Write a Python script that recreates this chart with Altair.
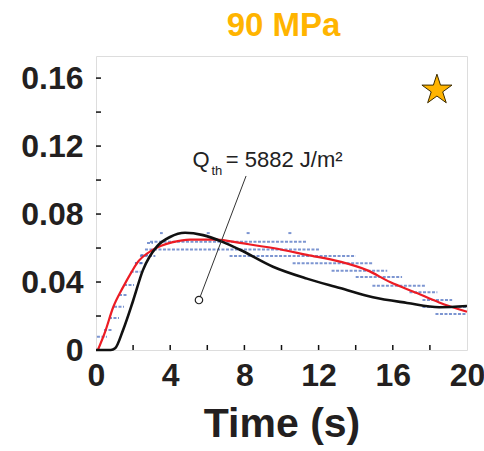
import altair as alt
import pandas as pd

# Fitted model (black) and smoothed measurement (red): time in s, value
model_t = [0.0, 0.8, 1.03, 1.46, 2.0, 2.53, 3.29, 3.99, 4.8, 5.77, 6.85, 7.76,
           9.54, 11.37, 13.15, 14.93, 16.77, 18.5, 20.0]
model_v = [0.0, 0.0, 0.001, 0.0118, 0.029, 0.047, 0.061, 0.0665, 0.069, 0.0676,
           0.0635, 0.059, 0.049, 0.042, 0.0365, 0.031, 0.0277, 0.0252, 0.0259]

smooth_t = [0.1, 0.5, 0.92, 1.46, 1.92, 2.2, 3.07, 4.15, 5.07, 6.52, 7.76, 9.54,
            11.37, 13.15, 14.6, 15.85, 17.3, 18.5, 20.0]
smooth_v = [0.0, 0.011, 0.025, 0.037, 0.046, 0.051, 0.059, 0.0635, 0.065, 0.065,
            0.063, 0.060, 0.056, 0.052, 0.047, 0.040, 0.0335, 0.028, 0.0225]

# Raw samples, drawn as runs of dashes at quantised levels
raw_t0 = [0.05, 0.43, 0.70, 0.97, 1.24, 1.51, 1.87, 2.10, 2.40, 2.75,
          3.45, 5.97, 8.12, 10.37,
          2.91, 2.64, 2.37, 7.2, 2.1, 10.6, 12.7, 14.0, 14.9, 16.9, 17.6, 17.6, 18.3]
raw_t1 = [0.59, 0.86, 1.24, 1.51, 1.67, 2.05, 2.41, 2.59, 2.95, 3.07,
          3.6, 6.15, 8.3, 10.6,
          11.36, 12.08, 3.2, 14.0, 2.5, 14.9, 15.7, 16.5, 17.8, 18.4, 19.2, 20.0, 20.0]
raw_v = [0.0078, 0.0118, 0.0188, 0.0255, 0.0324, 0.0382, 0.046, 0.0512, 0.0559, 0.0629,
         0.0688, 0.0688, 0.0688, 0.0688,
         0.0637, 0.0592, 0.0553, 0.0553, 0.051, 0.051, 0.0467, 0.043, 0.0378, 0.034,
         0.0294, 0.0253, 0.0212]

# Annotation: marker point and leader line end
marker_t = [5.55]
marker_v = [0.0294]
leader_t = [5.55, 8.09]
leader_v = [0.0294, 0.1024]

x_ticks = [2, 4, 6, 8, 10, 12, 14, 16, 18]
y_ticks = [0.02, 0.04, 0.06, 0.08, 0.10, 0.12, 0.14, 0.16]

W, H = 371, 294
TXT = "#231F20"
FONT = "Liberation Sans"

xs = alt.Scale(domain=[0, 20], nice=False, zero=False)
ys = alt.Scale(domain=[0, 0.173], nice=False, zero=False)

model = pd.DataFrame({"t": model_t, "v": model_v})
smooth = pd.DataFrame({"t": smooth_t, "v": smooth_v})
raw = pd.DataFrame({"t": raw_t0, "t2": raw_t1, "v": raw_v})
leader = pd.DataFrame({"t": leader_t, "v": leader_v})
marker = pd.DataFrame({"t": marker_t, "v": marker_v})

base_x = alt.X("t:Q", scale=xs, axis=alt.Axis(
    values=[0, 4, 8, 12, 16, 20], format="d", title="Time (s)", grid=False,
    domain=False, ticks=False, labelFont=FONT, labelFontWeight="bold",
    labelFontSize=32, labelColor=TXT, labelPadding=10, labelFlush=False,
    titleFont=FONT, titleFontWeight="bold", titleFontSize=41, titleColor=TXT,
    titlePadding=13))
base_y = alt.Y("v:Q", scale=ys, axis=alt.Axis(
    values=[0, 0.04, 0.08, 0.12, 0.16], labelExpr="datum.value == 0 ? '0' : format(datum.value, '.2f')",
    title=None, grid=False, domain=False, ticks=False, labelFont=FONT,
    labelFontWeight="bold", labelFontSize=32, labelColor=TXT, labelPadding=13,
    labelFlush=False))

raw_layer = alt.Chart(raw).mark_rule(
    color="#4468BE", strokeWidth=2, opacity=0.7, strokeDash=[3, 1.5]
).encode(x=base_x, x2="t2:Q", y=base_y)

smooth_layer = alt.Chart(smooth).mark_line(
    color="#EC1C24", strokeWidth=2.2, interpolate="monotone"
).encode(x=alt.X("t:Q", scale=xs), y=alt.Y("v:Q", scale=ys))

model_layer = alt.Chart(model).mark_line(
    color="#111111", strokeWidth=2.6, interpolate="monotone"
).encode(x=alt.X("t:Q", scale=xs), y=alt.Y("v:Q", scale=ys))

leader_layer = alt.Chart(leader).mark_line(color="#333333", strokeWidth=1).encode(
    x=alt.X("t:Q", scale=xs), y=alt.Y("v:Q", scale=ys))

marker_layer = alt.Chart(marker).mark_point(
    shape="circle", filled=True, fill="white", stroke="#222222", strokeWidth=1.2,
    size=55, opacity=1
).encode(x=alt.X("t:Q", scale=xs), y=alt.Y("v:Q", scale=ys))

# Q_th label pieces
lbl = pd.DataFrame({
    "t": [5.2, 6.22, 7.0],
    "v": [0.1078, 0.1032, 0.1078],
    "s": ["Q", "th", "= 5882 J/m\u00b2"],
    "fs": [22, 13, 22],
})
label_layer = alt.Chart(lbl).mark_text(
    align="left", baseline="alphabetic", font=FONT, color="#222222"
).encode(x=alt.X("t:Q", scale=xs), y=alt.Y("v:Q", scale=ys), text="s:N",
         size=alt.Size("fs:Q", scale=None, legend=None))

star_layer = alt.Chart(pd.DataFrame({"t": [18.38], "v": [0.153]})).mark_point(
    shape="M0,-1L0.2245,-0.309L0.9511,-0.309L0.3633,0.118L0.5878,0.809L0,0.382L-0.5878,0.809L-0.3633,0.118L-0.9511,-0.309L-0.2245,-0.309Z",
    filled=True, fill="#FFB400", stroke="#3A2A00", strokeWidth=1, size=1000, opacity=1
).encode(x=alt.X("t:Q", scale=xs), y=alt.Y("v:Q", scale=ys))

xtick_layer = alt.Chart(pd.DataFrame({"t": x_ticks})).mark_rule(
    color="#111111", strokeWidth=1.5
).encode(x=alt.X("t:Q", scale=xs), y=alt.value(H), y2=alt.value(H - 5))

ytick_layer = alt.Chart(pd.DataFrame({"v": y_ticks})).mark_rule(
    color="#111111", strokeWidth=1.5
).encode(y=alt.Y("v:Q", scale=ys), x=alt.value(0), x2=alt.value(5))

chart = alt.layer(
    raw_layer, smooth_layer, model_layer, leader_layer, marker_layer,
    label_layer, star_layer, xtick_layer, ytick_layer
).properties(
    width=W, height=H,
    title=alt.TitleParams("90 MPa", font=FONT, fontWeight="bold", fontSize=33,
                          color="#FFB400", anchor="middle", baseline="alphabetic",
                          offset=20, dx=2, dy=33),
    autosize=alt.AutoSizeParams(type="none"),
    padding={"left": 96, "top": 56, "right": 17, "bottom": 101},
).configure_view(
    stroke="#111111", strokeWidth=2.2
).configure(background="white")

chart.save("out.html", embed_options={"renderer": "svg", "actions": False})
